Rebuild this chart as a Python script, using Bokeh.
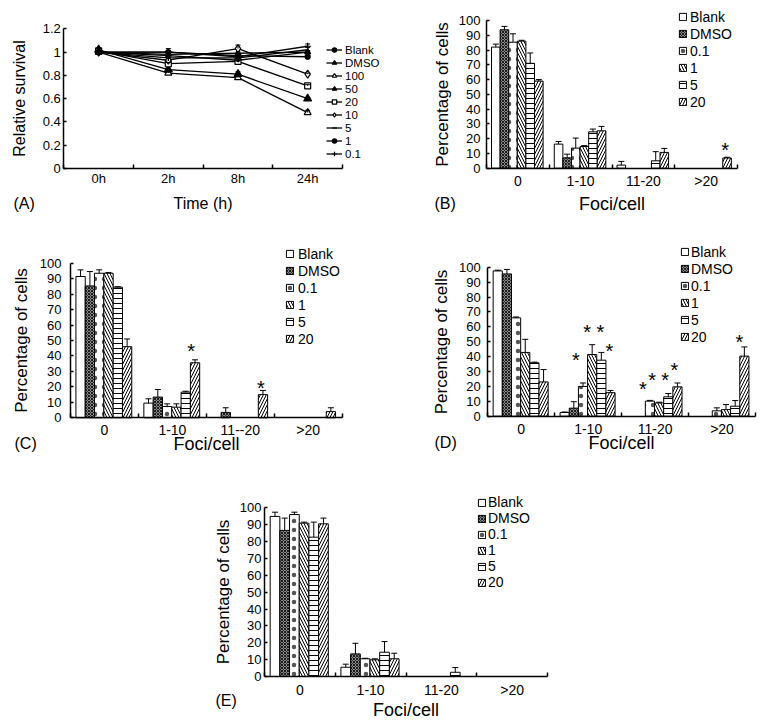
import math
from bokeh.plotting import figure
from bokeh.models import (Range1d, FixedTicker, Legend, LegendItem, Whisker,
                          ColumnDataSource, Label, Spacer, TeeHead)
from bokeh.layouts import column, row
from bokeh.embed import file_html
from bokeh.resources import INLINE
from bokeh.core.properties import value

FONT = "Liberation Sans"

# ---------------- Panel A data ----------------
times = ["0h", "2h", "8h", "24h"]
a_labels = ["Blank", "DMSO", "100", "50", "20", "10", "5", "1", "0.1"]
a_blank = [1.00, 1.00, 0.97, 0.96]
a_dmso = [1.00, 0.98, 0.99, 1.00]
a_100 = [1.00, 0.82, 0.78, 0.48]
a_50 = [1.02, 0.85, 0.81, 0.60]
a_20 = [1.01, 0.90, 0.92, 0.71]
a_10 = [1.00, 0.93, 1.03, 0.81]
a_5 = [1.00, 0.95, 0.95, 1.02]
a_1 = [1.00, 0.97, 0.93, 1.00]
a_01 = [1.00, 1.00, 0.96, 1.05]
a_e_blank = [0.01, 0.01, 0.01, 0.01]
a_e_dmso = [0.01, 0.02, 0.01, 0.01]
a_e_100 = [0.01, 0.01, 0.02, 0.02]
a_e_50 = [0.01, 0.01, 0.02, 0.01]
a_e_20 = [0.01, 0.01, 0.01, 0.01]
a_e_10 = [0.01, 0.02, 0.03, 0.01]
a_e_5 = [0.01, 0.01, 0.01, 0.02]
a_e_1 = [0.01, 0.01, 0.01, 0.01]
a_e_01 = [0.01, 0.03, 0.01, 0.02]
a_yticks = [0, 0.2, 0.4, 0.6, 0.8, 1.0, 1.2]
a_ytick_labels = ["0", "0.2", "0.4", "0.6", "0.8", "1", "1.2"]

# ---------------- Bar panels data ----------------
series = ["Blank", "DMSO", "0.1", "1", "5", "20"]
groups = ["0", "1-10", "11-20", ">20"]
c_groups = ["0", "1-10", "11--20", ">20"]
y_ticks = [0, 10, 20, 30, 40, 50, 60, 70, 80, 90, 100]

# Panel B
b_blank = [82.0, 16.3, 2.1, 0]
b_dmso = [93.7, 7.0, 0, 0]
b_01 = [85.3, 13.6, 0, 0]
b_1 = [86.0, 14.7, 0, 0]
b_5 = [71.0, 24.6, 5.0, 0]
b_20 = [59.0, 25.3, 10.7, 6.9]
b_e_blank = [2.0, 1.8, 2.5, 0]
b_e_dmso = [2.3, 2.5, 0, 0]
b_e_01 = [5.7, 6.8, 0, 0]
b_e_1 = [0.6, 0.6, 0, 0]
b_e_5 = [7.0, 1.9, 6.2, 0]
b_e_20 = [1.0, 3.0, 2.7, 0.5]
b_star_group = [3]
b_star_series = [5]
b_star_y = [16.0]
b_star_dx = [-2]

# Panel C
c_blank = [91.4, 9.5, 0, 0]
c_dmso = [85.3, 13.4, 3.5, 0]
c_01 = [93.5, 7.3, 0, 0]
c_1 = [93.5, 6.9, 0, 0]
c_5 = [84.5, 16.6, 0, 0]
c_20 = [46.0, 35.6, 15.0, 4.0]
c_e_blank = [4.3, 2.8, 0, 0]
c_e_dmso = [9.3, 4.9, 3.0, 0]
c_e_01 = [2.2, 1.7, 0, 0]
c_e_1 = [0.5, 2.1, 0, 0]
c_e_5 = [0.3, 0.6, 0, 0]
c_e_20 = [5.0, 1.9, 2.7, 2.5]
c_star_group = [1, 2]
c_star_series = [5, 5]
c_star_y = [46.7, 22.4]
c_star_dx = [-4, -2]

# Panel D
d_blank = [97.5, 2.5, 0, 0]
d_dmso = [95.5, 5.4, 0, 0]
d_01 = [66.0, 20.0, 10.1, 3.6]
d_1 = [42.8, 41.4, 8.9, 4.4]
d_5 = [35.8, 37.6, 13.0, 6.7]
d_20 = [23.0, 15.8, 19.7, 40.3]
d_e_blank = [0.5, 0.3, 0, 0]
d_e_dmso = [3.0, 4.3, 0, 0]
d_e_01 = [0.6, 2.3, 0.5, 2.0]
d_e_1 = [8.8, 6.6, 0.5, 3.4]
d_e_5 = [0.5, 5.2, 2.2, 3.8]
d_e_20 = [8.3, 1.5, 2.6, 6.2]
d_star_group = [1, 1, 1, 1, 2, 2, 2, 2, 3]
d_star_series = [2, 3, 4, 5, 2, 3, 4, 5, 5]
d_star_y = [41.4, 59.7, 59.7, 47.4, 21.9, 27.9, 27.9, 34.6, 53.0]
d_star_dx = [-7, -5, -1, -1, -7, -7, -3, -3, -5]

# Panel E
e_blank = [94.9, 5.5, 0, 0]
e_dmso = [86.6, 13.4, 0, 0]
e_01 = [96.0, 10.5, 0, 0]
e_1 = [90.9, 9.9, 0, 0]
e_5 = [82.6, 14.4, 2.5, 0]
e_20 = [90.5, 10.5, 0, 0]
e_e_blank = [2.5, 1.8, 0, 0]
e_e_dmso = [7.3, 6.3, 0, 0]
e_e_01 = [1.4, 0.3, 0, 0]
e_e_1 = [0.6, 0.6, 0, 0]
e_e_5 = [8.9, 6.3, 2.8, 0]
e_e_20 = [3.4, 3.3, 0, 0]

# ---------------- styling ----------------
PAD = 0.08
BW = 0.137
bar_styles = {
    "Blank": dict(fill_color="white"),
    "DMSO": dict(fill_color="#8a8a8a", hatch_pattern="diagonal_cross", hatch_color="black",
                 hatch_scale=3, hatch_weight=0.8),
    "0.1": dict(fill_color="white", hatch_pattern="dot", hatch_color="#555555", hatch_scale=9,
                hatch_weight=0.5),
    "1": dict(fill_color="white", hatch_pattern="left_diagonal_line", hatch_color="black",
              hatch_scale=6, hatch_weight=1),
    "5": dict(fill_color="white", hatch_pattern="horizontal_line", hatch_color="black",
              hatch_scale=5, hatch_weight=1),
    "20": dict(fill_color="white", hatch_pattern="right_diagonal_line", hatch_color="black",
               hatch_scale=6, hatch_weight=1),
}


def make_fig(fx0, fy0, w, h, xl, xr, yb, yt, ymax):
    """Figure whose frame fills it; data box x 0..4 -> [xl, xr], y 0..ymax -> [yb, yt] (page px)."""
    ux = (xr - xl) / 4.0
    uy = (yb - yt) / float(ymax)
    x0 = -(xl - fx0) / ux
    x1 = 4 + (fx0 + w - xr) / ux
    y0 = -(fy0 + h - yb) / uy
    y1 = ymax + (yt - fy0) / uy
    p = figure(width=w, height=h, output_backend="svg", toolbar_location=None,
               x_range=Range1d(x0, x1), y_range=Range1d(y0, y1), min_border=0)
    p.outline_line_color = None
    p.xgrid.visible = False
    p.ygrid.visible = False
    p.background_fill_color = "white"
    p.border_fill_color = "white"
    return p


def style_axes(p, glabels, xlabel, ylabel, yticks, ymax, ylabels, xstd, xlstd, ystd, ylstd,
               xfs="14px", xlfs="18px", ylfs="17px"):
    xa = p.xaxis[0]
    xa.fixed_location = 0
    xa.ticker = FixedTicker(ticks=[0.5, 1.5, 2.5, 3.5], minor_ticks=[0, 1, 2, 3, 4])
    xa.major_label_overrides = {0.5: glabels[0], 1.5: glabels[1], 2.5: glabels[2], 3.5: glabels[3]}
    xa.bounds = (0, 4)
    xa.major_tick_line_color = None
    xa.major_tick_in = 0
    xa.major_tick_out = 0
    xa.minor_tick_in = 4
    xa.minor_tick_out = 0
    xa.minor_tick_line_color = "black"
    xa.minor_tick_line_width = 1.5
    xa.axis_line_width = 1.5
    xa.axis_line_color = "black"
    xa.major_label_text_font = FONT
    xa.major_label_text_font_size = xfs
    xa.major_label_text_color = "black"
    xa.major_label_standoff = xstd
    xa.axis_label = xlabel
    xa.axis_label_text_font = FONT
    xa.axis_label_text_font_size = xlfs
    xa.axis_label_text_font_style = "normal"
    xa.axis_label_text_color = "black"
    xa.axis_label_standoff = xlstd

    ya = p.yaxis[0]
    ya.fixed_location = 0
    ya.ticker = FixedTicker(ticks=yticks)
    if ylabels is not None:
        ya.major_label_overrides = {t: s for t, s in zip(yticks, ylabels)}
    ya.bounds = (0, ymax)
    ya.major_tick_in = 3
    ya.major_tick_out = 0
    ya.major_tick_line_width = 1.5
    ya.major_tick_line_color = "black"
    ya.minor_tick_line_color = None
    ya.minor_tick_in = 0
    ya.minor_tick_out = 0
    ya.axis_line_width = 1.5
    ya.axis_line_color = "black"
    ya.major_label_text_font = FONT
    ya.major_label_text_font_size = "13px"
    ya.major_label_text_color = "black"
    ya.major_label_standoff = ystd
    ya.axis_label = ylabel
    ya.axis_label_text_font = FONT
    ya.axis_label_text_font_size = ylfs
    ya.axis_label_text_font_style = "normal"
    ya.axis_label_text_color = "black"
    ya.axis_label_standoff = ylstd


def add_panel_label(p, text, x, y):
    p.add_layout(Label(x=x, y=y, x_units="screen", y_units="screen", text=text,
                       text_font=FONT, text_font_size="16px", text_baseline="middle",
                       text_color="black"))


def bar_panel(geom, glabels, vals, errs, star_g, star_s, star_y, star_dx,
              leg_loc, leg_row, leg_std, plabel, plabel_xy, xstd, xlstd, ystd, ylstd):
    p = make_fig(*geom, 100)
    items = []
    for j, name in enumerate(series):
        xs, tops, wx, wl, wu = [], [], [], [], []
        for gi in range(4):
            v = vals[j][gi]
            if v <= 0:
                continue
            x = gi + PAD + BW * (j + 0.5)
            xs.append(x)
            tops.append(v)
            e = errs[j][gi]
            if e > 0:
                wx.append(x)
                wl.append(v)
                wu.append(v + e)
        src = ColumnDataSource(dict(x=xs, top=tops))
        rend = p.vbar(x="x", top="top", bottom=0, width=BW, source=src,
                      line_color="black", line_width=1, **bar_styles[name])
        items.append(LegendItem(label=name, renderers=[rend]))
        wsrc = ColumnDataSource(dict(x=wx, lower=wl, upper=wu))
        p.add_layout(Whisker(source=wsrc, base="x", lower="lower", upper="upper",
                             upper_head=TeeHead(size=6, line_color="black", line_width=1),
                             lower_head=None, line_color="black", line_width=1, level="glyph"))
    if star_g:
        sx = [g + PAD + BW * (s + 0.5) for g, s in zip(star_g, star_s)]
        ssrc = ColumnDataSource(dict(x=sx, y=star_y, dx=star_dx, t=["*"] * len(sx)))
        p.text(x="x", y="y", text="t", x_offset="dx", source=ssrc, text_font=value(FONT),
               text_font_size="20px", text_align="center", text_baseline="middle",
               y_offset=5, text_color="black")
    leg = Legend(items=items, location=leg_loc, border_line_color=None,
                 background_fill_alpha=0, padding=0, margin=0, spacing=0,
                 glyph_width=9, glyph_height=9, label_height=leg_row, label_standoff=leg_std,
                 label_text_font=FONT, label_text_font_size="14px", label_text_color="black")
    p.add_layout(leg)
    style_axes(p, glabels, "Foci/cell", "Percentage of cells", y_ticks, 100, None,
               xstd, xlstd, ystd, ylstd)
    add_panel_label(p, plabel, *plabel_xy)
    return p


# ---------------- Panel A ----------------
# geometry: (fig_x0, fig_y0, width, height, axis_x_left, axis_x_right, axis_y_bottom, axis_y_top)
pA = make_fig(0, 0, 405, 220, 63.3, 342, 168, 28.3, 1.2)
a_vals = [a_blank, a_dmso, a_100, a_50, a_20, a_10, a_5, a_1, a_01]
a_errs = [a_e_blank, a_e_dmso, a_e_100, a_e_50, a_e_20, a_e_10, a_e_5, a_e_1, a_e_01]
a_marks = [("circle", 5, "black", 0), ("triangle", 6, "black", 0), ("triangle", 7, "white", 0),
           ("triangle", 8, "black", 0), ("square", 6, "white", 0), ("diamond", 8, "white", 0),
           ("dash", 6, "black", math.pi / 2), ("circle", 3, "black", 0), ("cross", 7, "black", 0)]
xs_a = [0.5, 1.5, 2.5, 3.5]
a_items = []
for lab, ys, es, (mk, sz, fc, ang) in zip(a_labels, a_vals, a_errs, a_marks):
    src = ColumnDataSource(dict(x=xs_a, y=ys, up=[y + e for y, e in zip(ys, es)]))
    pA.add_layout(Whisker(source=src, base="x", lower="y", upper="up",
                          upper_head=TeeHead(size=5, line_color="black", line_width=1),
                          lower_head=None, line_color="black", line_width=1, level="glyph"))
    lr = pA.line("x", "y", source=src, line_color="black", line_width=1.3)
    sr = pA.scatter("x", "y", source=src, marker=mk, size=sz, fill_color=fc,
                    line_color="black", line_width=1.2, angle=ang)
    a_items.append(LegendItem(label=lab, renderers=[lr, sr]))
legA = Legend(items=a_items, location=(326, 60), border_line_color=None,
              background_fill_alpha=0, padding=0, margin=0, spacing=0,
              glyph_width=16, glyph_height=11, label_height=13, label_standoff=3,
              label_text_font=FONT, label_text_font_size="11.5px", label_text_color="black")
pA.add_layout(legA)
style_axes(pA, times, "Time (h)", "Relative survival", a_yticks, 1.2, a_ytick_labels,
           2, 6, 3, 11, xfs="13px", xlfs="16px", ylfs="16px")
add_panel_label(pA, "(A)", 13, 17)

# ---------------- Panels B-E ----------------
pB = bar_panel((405, 0, 355, 220, 486, 737, 167.7, 20), groups,
               [b_blank, b_dmso, b_01, b_1, b_5, b_20],
               [b_e_blank, b_e_dmso, b_e_01, b_e_1, b_e_5, b_e_20],
               b_star_group, b_star_series, b_star_y, b_star_dx,
               (273, 110), 17, 3, "(B)", (29, 17), 5, 1, 6, 4)

pC = bar_panel((0, 220, 405, 242, 70, 341.7, 417.3, 262.7), c_groups,
               [c_blank, c_dmso, c_01, c_1, c_5, c_20],
               [c_e_blank, c_e_dmso, c_e_01, c_e_1, c_e_5, c_e_20],
               c_star_group, c_star_series, c_star_y, c_star_dx,
               (285, 115), 17, 4, "(C)", (14, 19), 4, -7, 9, 6)

pD = bar_panel((405, 220, 355, 242, 487.3, 755, 415.7, 266.7), groups,
               [d_blank, d_dmso, d_01, d_1, d_5, d_20],
               [d_e_blank, d_e_dmso, d_e_01, d_e_1, d_e_5, d_e_20],
               d_star_group, d_star_series, d_star_y, d_star_dx,
               (275, 117), 17, 2, "(D)", (29, 20), 5, -8, 7, 5)

pE = bar_panel((190, 462, 370, 262, 264, 547, 676, 507.3), groups,
               [e_blank, e_dmso, e_01, e_1, e_5, e_20],
               [e_e_blank, e_e_dmso, e_e_01, e_e_1, e_e_5, e_e_20],
               [], [], [], [],
               (287, 134), 16, 2, "(E)", (25, 24), 5, -1, 3, 4)

layout = column(row(pA, pB), row(pC, pD), row(Spacer(width=190, height=262), pE))

open("out.html", "w").write(file_html(layout, INLINE))
